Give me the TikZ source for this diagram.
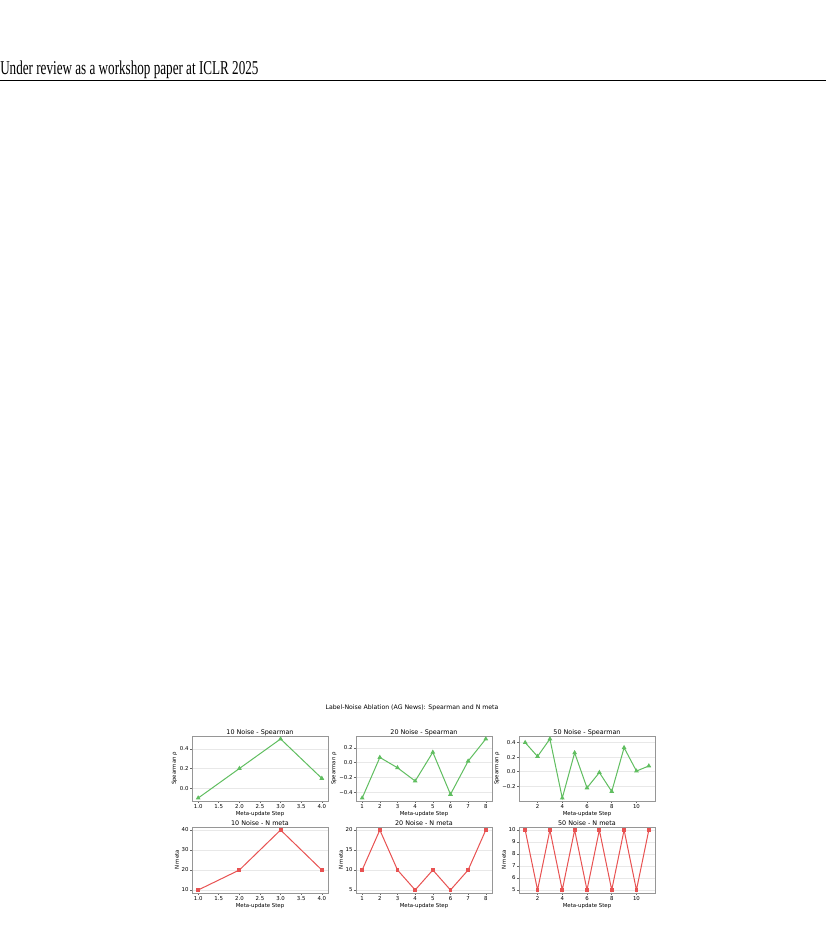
\documentclass[tikz,border=0pt]{standalone}
\usepackage{fontspec}
\setmainfont{Liberation Serif}
\newfontfamily\plotfont{DejaVu Sans}
\usepackage{pgfplots}
\pgfplotsset{compat=1.18}
\usetikzlibrary{positioning}

\definecolor{spgreen}{RGB}{96,190,96}
\definecolor{nmred}{RGB}{232,82,82}
\definecolor{framegray}{RGB}{150,150,150}

\tikzset{
	every node/.style={
		font=\scriptsize
	},
	header/.style={
		anchor=base west,
		inner sep=0pt,
		xscale=0.67,
		font=\fontsize{9.8}{11}\selectfont
	},
	suptitle/.style={
		inner sep=0pt,
		font=\plotfont\fontsize{3.1}{3.5}\selectfont
	}
}
\pgfplotsset{
	panel/.style={
		scale only axis,
		width=68pt,
		anchor=south west,
		clip=false,
		axis line style={framegray, line width=0.4pt},
		tick align=outside,
		major tick length=0.95pt,
		tick style={black!60, line width=0.3pt},
		xtick pos=bottom,
		ytick pos=left,
		ymajorgrids,
		grid style={gray!18, line width=0.3pt},
		ticklabel style={font=\plotfont\fontsize{2.7}{3}\selectfont, inner sep=0.6pt},
		label style={font=\plotfont\fontsize{2.7}{3}\selectfont, inner sep=0.6pt},
		every axis title/.style={font=\plotfont\fontsize{3.2}{3.6}\selectfont, at={(0.5,1)}, anchor=base, yshift=0.9pt, inner sep=0pt},
		xlabel={Meta-update Step}
	},
	spear/.style={
		panel,
		height=32.5pt,
		ylabel={Spearman ρ},
		every axis plot post/.append style={spgreen, line width=0.5pt, mark=triangle*, mark size=0.9pt, mark options={solid, fill=spgreen}}
	},
	nmeta/.style={
		panel,
		height=33pt,
		ylabel={N meta},
		every axis plot post/.append style={nmred, line width=0.5pt, mark=square*, mark size=0.7pt, mark options={solid, fill=nmred}}
	},
	four steps/.style={
		xmin=0.85, xmax=4.15,
		xtick={1,1.5,...,4},
		xticklabels={1.0,1.5,2.0,2.5,3.0,3.5,4.0}
	},
	eight steps/.style={
		xmin=0.65, xmax=8.35,
		xtick={1,...,8},
		xticklabels={1,2,3,4,5,6,7,8}
	},
	eleven steps/.style={
		xmin=0.5, xmax=11.5,
		xtick={2,4,...,10},
		xticklabels={2,4,6,8,10}
	}
}

\begin{document}
\begin{tikzpicture}
	\fill[white] (0,0) rectangle (413pt,475pt);
	\useasboundingbox (0,0) rectangle (413pt,475pt);
	
	\node[header] (head) at (0,437.5pt) {Under review as a workshop paper at ICLR 2025};
	\draw[line width=0.5pt] (0,434.5pt) -- (413pt,434.5pt);
	
	\node[suptitle] (sup) at (206pt,121pt) {Label-Noise Ablation (AG News): Spearman and N meta};
	
	% Spearman row
	\begin{axis}[spear, four steps, at={(96pt,74.5pt)},
		title={10 Noise - Spearman},
		ymin=-0.13, ymax=0.53,
		ytick={0,0.2,0.4}, yticklabels={0.0,0.2,0.4}]
		\addplot coordinates {(1,-0.1) (2,0.2) (3,0.5) (4,0.1)};
	\end{axis}
	\begin{axis}[spear, eight steps, at={(178pt,74.5pt)},
		title={20 Noise - Spearman},
		ymin=-0.52, ymax=0.36,
		ytick={-0.4,-0.2,0,0.2}, yticklabels={−0.4,−0.2,0.0,0.2}]
		\addplot coordinates {(1,-0.48) (2,0.07) (3,-0.07) (4,-0.25) (5,0.14) (6,-0.43) (7,0.02) (8,0.32)};
	\end{axis}
	\begin{axis}[spear, eleven steps, at={(259.5pt,74.5pt)},
		title={50 Noise - Spearman},
		ymin=-0.40, ymax=0.49,
		ytick={-0.2,0,0.2,0.4}, yticklabels={−0.2,0.0,0.2,0.4}]
		\addplot coordinates {(1,0.40) (2,0.21) (3,0.45) (4,-0.36) (5,0.26) (6,-0.22) (7,-0.01) (8,-0.27) (9,0.33) (10,0.01) (11,0.08)};
	\end{axis}
	
	% N meta row
	\begin{axis}[nmeta, four steps, at={(96pt,28.5pt)},
		title={10 Noise - N meta},
		ymin=8.5, ymax=41.5,
		ytick={10,20,30,40}, yticklabels={10,20,30,40}]
		\addplot coordinates {(1,10) (2,20) (3,40) (4,20)};
	\end{axis}
	\begin{axis}[nmeta, eight steps, at={(178pt,28.5pt)},
		title={20 Noise - N meta},
		ymin=4.25, ymax=20.75,
		ytick={5,10,15,20}, yticklabels={5,10,15,20}]
		\addplot coordinates {(1,10) (2,20) (3,10) (4,5) (5,10) (6,5) (7,10) (8,20)};
	\end{axis}
	\begin{axis}[nmeta, eleven steps, at={(259.5pt,28.5pt)},
		title={50 Noise - N meta},
		ymin=4.75, ymax=10.25,
		ytick={5,...,10}, yticklabels={5,6,7,8,9,10}]
		\addplot coordinates {(1,10) (2,5) (3,10) (4,5) (5,10) (6,5) (7,10) (8,5) (9,10) (10,5) (11,10)};
	\end{axis}
	
\end{tikzpicture}
\end{document}
